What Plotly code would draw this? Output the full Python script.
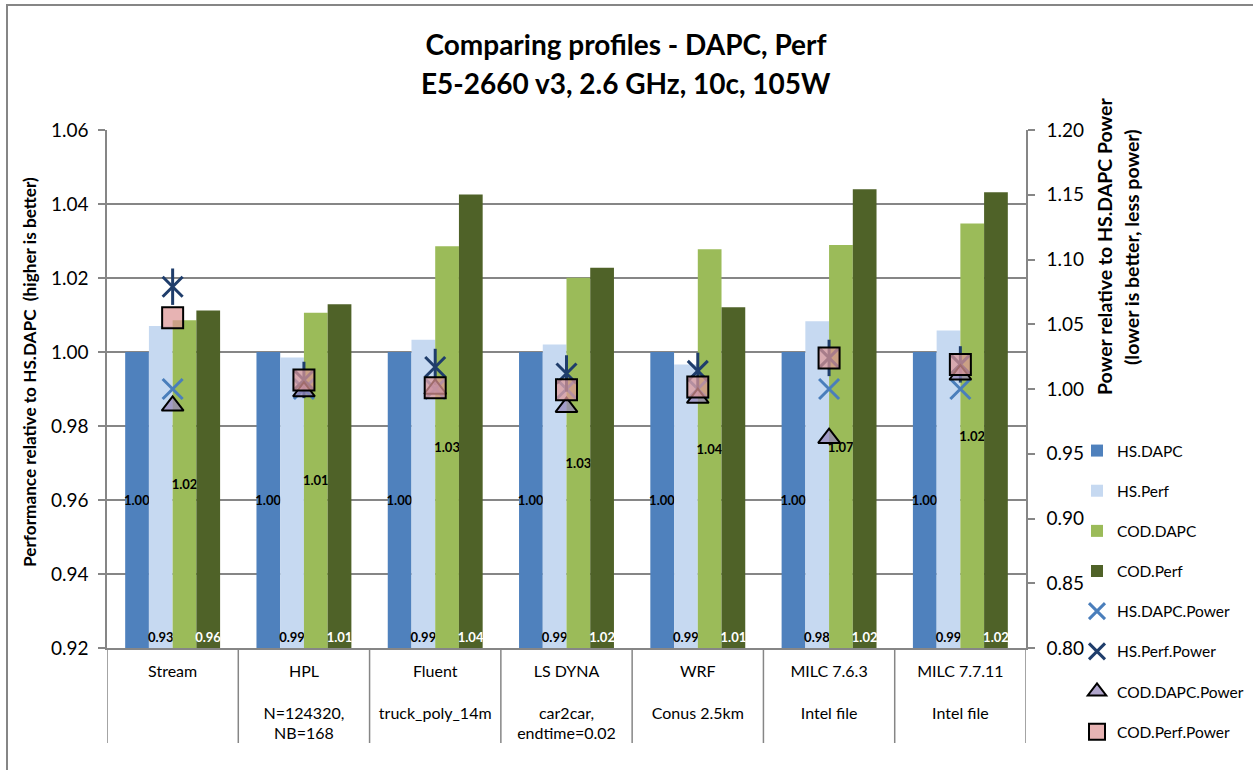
import plotly.graph_objects as go

# ---- data ----
categories = [
    "Stream",
    "HPL<br> <br>N=124320,<br>NB=168",
    "Fluent<br> <br>truck_poly_14m",
    "LS DYNA<br> <br>car2car,<br>endtime=0.02",
    "WRF<br> <br>Conus 2.5km",
    "MILC 7.6.3<br> <br>Intel file",
    "MILC 7.7.11<br> <br>Intel file",
]

hs_dapc = [1.000, 1.000, 1.000, 1.000, 1.000, 1.000, 1.000]
hs_perf = [1.0070, 0.9985, 1.0033, 1.0020, 0.9966, 1.0083, 1.0058]
cod_dapc = [1.0086, 1.0106, 1.0286, 1.0201, 1.0278, 1.0289, 1.0347]
cod_perf = [1.0112, 1.0129, 1.0426, 1.0228, 1.0121, 1.0440, 1.0432]

hs_dapc_power = [1.000, 1.000, 1.000, 1.000, 1.000, 1.000, 1.000]
hs_perf_power = [1.079, 1.007, 1.017, 1.012, 1.014, 1.024, 1.019]
cod_dapc_power = [0.987, 0.998, 1.000, 0.986, 0.993, 0.962, 1.011]
cod_perf_power = [1.055, 1.007, 1.001, 0.9995, 1.0015, 1.024, 1.019]

# data labels (performance per power), as printed on the bars
hs_dapc_lbl = ["1.00", "1.00", "1.00", "1.00", "1.00", "1.00", "1.00"]
hs_perf_lbl = ["0.93", "0.99", "0.99", "0.99", "0.99", "0.98", "0.99"]
cod_dapc_lbl = ["1.02", "1.01", "1.03", "1.03", "1.04", "1.07", "1.02"]
cod_perf_lbl = ["0.96", "1.01", "1.04", "1.02", "1.01", "1.02", "1.02"]

left_ticks = [0.92, 0.94, 0.96, 0.98, 1.00, 1.02, 1.04, 1.06]
right_ticks = [0.80, 0.85, 0.90, 0.95, 1.00, 1.05, 1.10, 1.15, 1.20]

# ---- style ----
FONT = "Lato"
GRID = "#868686"
W, H = 1253, 770
ML, MR, MT, MB = 107, 227, 130, 122
PW, PH = W - ML - MR, H - MT - MB
y_min, y_max = left_ticks[0], left_ticks[-1]
y2_min, y2_max = right_ticks[0], right_ticks[-1]


def px_x(px):
    return (px - ML) / PW


def px_y(py):
    return (H - MB - py) / PH


fig = go.Figure()

bar_specs = [
    ("HS.DAPC", hs_dapc, hs_dapc_lbl, "#4F81BD", "middle", "black"),
    ("HS.Perf", hs_perf, hs_perf_lbl, "#C6D9F1", "start", "black"),
    ("COD.DAPC", cod_dapc, cod_dapc_lbl, "#9BBB59", "middle", "black"),
    ("COD.Perf", cod_perf, cod_perf_lbl, "#4F6228", "start", "white"),
]
for name, vals, lbl, col, anchor, tcol in bar_specs:
    fig.add_trace(go.Bar(
        name=name, x=categories, y=[v - y_min for v in vals], base=y_min,
        marker=dict(color=col, line=dict(width=0)),
        text=lbl, textposition="inside", insidetextanchor=anchor,
        textangle=0, constraintext="none",
        textfont=dict(family=FONT, size=13, color=tcol, weight="bold"),
        legendgroup=name, hoverinfo="skip",
    ))

fig.add_trace(go.Scatter(
    name="HS.DAPC.Power", x=categories, y=hs_dapc_power, yaxis="y2", mode="markers",
    marker=dict(symbol="x-thin-open", size=20, color="#4A7EBB", line=dict(width=3)),
    legendgroup="p1",
))
fig.add_trace(go.Scatter(
    name="HS.Perf.Power", x=categories, y=hs_perf_power, yaxis="y2", mode="markers",
    marker=dict(symbol="x-thin-open", size=20, color="#1F3D6B", line=dict(width=3)),
    legendgroup="p2",
))
fig.add_trace(go.Scatter(
    name="HS.Perf.Power", x=categories, y=hs_perf_power, yaxis="y2", mode="markers",
    marker=dict(symbol="line-ns-open", size=26, color="#1F3D6B", line=dict(width=3)),
    legendgroup="p2", showlegend=False,
))
fig.add_trace(go.Scatter(
    name="COD.DAPC.Power", x=categories, y=cod_dapc_power, yaxis="y2", mode="markers",
    marker=dict(symbol="triangle-up", size=19, color="rgba(150,135,185,0.75)",
                line=dict(color="black", width=2)),
    legendgroup="p3",
))
fig.add_trace(go.Scatter(
    name="COD.Perf.Power", x=categories, y=cod_perf_power, yaxis="y2", mode="markers",
    marker=dict(symbol="square", size=21, color="rgba(222,150,150,0.72)",
                line=dict(color="black", width=2)),
    legendgroup="p4",
))

separators = [
    dict(type="line", xref="x", yref="paper", x0=i - 0.5, x1=i - 0.5,
         y0=0, y1=-95 / PH, line=dict(color=GRID, width=1.5))
    for i in range(len(categories) + 1)
]

fig.update_layout(
    width=W, height=H,
    margin=dict(l=ML, r=MR, t=MT, b=MB, autoexpand=False),
    paper_bgcolor="white", plot_bgcolor="white",
    font=dict(family=FONT, color="black"),
    barmode="group", bargap=0.277, bargroupgap=0,
    title=dict(text="<b>Comparing profiles - DAPC, Perf</b>", x=626 / W, xref="container",
               xanchor="center", y=1 - 45 / H, yanchor="middle",
               font=dict(size=28, family=FONT)),
    showlegend=True,
    legend=dict(x=1077 / W, y=1 - 434 / H, xref="container", yref="container",
                xanchor="left", yanchor="top",
                font=dict(size=15.5, family=FONT), tracegroupgap=17,
                bgcolor="rgba(0,0,0,0)"),
    xaxis=dict(
        type="category", range=[-0.5, len(categories) - 0.5],
        showline=True, linecolor=GRID, linewidth=1.5,
        ticks="", ticklabelstandoff=8,
        tickfont=dict(size=16, family=FONT), showgrid=False, automargin=False,
    ),
    yaxis=dict(
        range=[y_min, y_max], tickvals=left_ticks, tickformat=".2f",
        showline=True, linecolor=GRID, linewidth=1.5,
        ticks="outside", ticklen=7, tickcolor=GRID, tickwidth=1.5,
        ticklabelstandoff=6,
        showgrid=True, gridcolor=GRID, gridwidth=1.5, zeroline=False,
        tickfont=dict(size=19, family=FONT), automargin=False,
    ),
    yaxis2=dict(
        range=[y2_min, y2_max], tickvals=right_ticks, tickformat=".2f",
        overlaying="y", side="right",
        showline=True, linecolor=GRID, linewidth=1.5,
        ticks="outside", ticklen=7, tickcolor=GRID, tickwidth=1.5,
        ticklabelstandoff=8,
        showgrid=False, zeroline=False,
        tickfont=dict(size=19, family=FONT), automargin=False,
    ),
    annotations=[
        dict(text="<b>E5-2660 v3, 2.6 GHz, 10c, 105W</b>", xref="paper", yref="paper",
             x=px_x(626), y=px_y(83), xanchor="center", yanchor="middle",
             showarrow=False, font=dict(size=28, family=FONT)),
        dict(text="<b>Performance relative to HS.DAPC  (higher is better)</b>",
             xref="paper", yref="paper", textangle=-90,
             x=px_x(29), y=px_y(372), xanchor="center", yanchor="middle",
             showarrow=False, font=dict(size=17.2, family=FONT)),
        dict(text="<b>Power relative to HS.DAPC Power</b>",
             xref="paper", yref="paper", textangle=-90,
             x=px_x(1104), y=px_y(247), xanchor="center", yanchor="middle",
             showarrow=False, font=dict(size=19.5, family=FONT)),
        dict(text="<b>(lower is better, less power)</b>",
             xref="paper", yref="paper", textangle=-90,
             x=px_x(1131), y=px_y(247), xanchor="center", yanchor="middle",
             showarrow=False, font=dict(size=19.5, family=FONT)),
    ],
    shapes=separators + [
        dict(type="rect", xref="paper", yref="paper",
             x0=px_x(7), x1=1.4, y0=-0.4, y1=px_y(5),
             line=dict(color=GRID, width=2), fillcolor="rgba(0,0,0,0)", layer="below"),
    ],
)

# the page body has a default 8px margin; remove it so the figure sits at the window origin
fig.write_html("out.html", config={"displayModeBar": False},
               post_script="document.body.style.margin='0px';")
